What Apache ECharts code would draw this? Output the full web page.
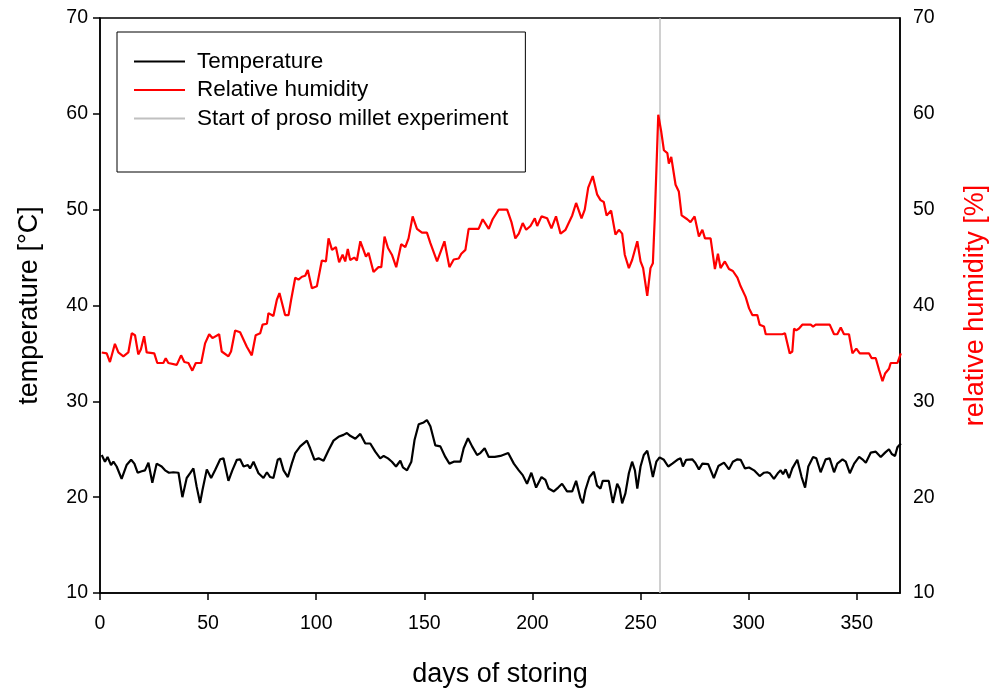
<!DOCTYPE html>
<html>
<head>
<meta charset="utf-8">
<script src="https://cdn.jsdelivr.net/npm/echarts@6/dist/echarts.min.js"></script>
<style>
  html, body { margin: 0; padding: 0; background: #fff; }
  #chart { width: 990px; height: 691px; }
</style>
</head>
<body>
<div id="chart"></div>
<script>
// days of storing / temperature [°C]
var tempDays = [0.8, 2.3, 3.5, 5.1, 6.2, 7.7, 10, 12.3, 14.4, 15.9, 17.4, 19.3, 20.8, 22.4, 24.2, 26.2, 28.5, 30.1, 31.9, 33.9,
  36.3, 38.1, 40.1, 41.7, 43.2, 44.7, 46.3, 47.4, 49.4, 51.4, 53.2, 55.6, 57.1, 59.4, 61.2, 63.3, 64.8, 66.4, 68.4, 69.4,
  71, 73.3, 75.6, 77.2, 78.7, 80.2, 82.2, 83.3, 84.9, 86.9, 88.7, 90.3, 92.6, 95.7, 97.2, 99.2, 101.1, 103.4, 105.7, 108,
  110.3, 112.6, 114.2, 115.7, 118.1, 120.4, 122.7, 125, 127.3, 129.6, 131.2, 133.2, 135, 136.9, 138.9, 140.1, 142, 144, 145.5, 147.4,
  149.7, 151.2, 152.8, 155.1, 157.4, 159.7, 161.6, 163.6, 166.7, 168.2, 170.2, 172.1, 174.4, 175.9, 177.9, 179.8, 182.6, 185.2, 188.8, 191.4,
  193.7, 195.5, 197.5, 199.5, 201.7, 204.2, 206, 207.5, 209.9, 211.9, 213.7, 216, 218.4, 220.2, 222.2, 223.3, 224.5, 226.4, 228.4, 229.9,
  231.5, 232.5, 235.3, 237.2, 239.2, 240.3, 241.5, 243, 244.6, 246.1, 247.4, 248.5, 250, 251.5, 253.1, 254.6, 255.7, 257.3, 258.8, 260.8,
  262.8, 264.7, 267, 268.5, 269.6, 271.1, 273.9, 275.3, 277, 278.6, 281.3, 283.9, 286, 288.6, 290.9, 292.7, 294.8, 296.3, 298.3, 300.2,
  302.5, 305.1, 307.1, 308.6, 309.7, 311.7, 313.7, 314.8, 315.9, 317.1, 318.7, 320.2, 322.5, 324.5, 326.1, 327.6, 329.8, 331.3, 333.3, 335.6,
  337.5, 339.5, 341, 343.4, 344.9, 346.8, 348.8, 351.1, 352.6, 354.2, 356.5, 358.8, 361.1, 363.1, 364.9, 366.2, 367.7, 368.8, 370.4];
var tempVals = [24.4, 23.7, 24.2, 23.35, 23.7, 23.2, 21.9, 23.35, 23.9, 23.5, 22.55, 22.7, 22.8, 23.6, 21.5, 23.5, 23.2, 22.8, 22.55, 22.6,
  22.55, 20.0, 22.0, 22.5, 23.0, 21.1, 19.4, 20.75, 22.9, 22.0, 22.8, 23.95, 24.05, 21.7, 22.8, 23.9, 23.95, 23.2, 23.35, 23.0,
  23.7, 22.5, 22.0, 22.6, 22.1, 22.0, 23.9, 24.05, 22.8, 22.1, 23.5, 24.6, 25.3, 25.9, 25.1, 23.9, 24.05, 23.8, 24.9, 25.9,
  26.3, 26.5, 26.7, 26.4, 26.1, 26.6, 25.6, 25.6, 24.75, 24.05, 24.3, 24.05, 23.7, 23.2, 23.8, 23.1, 22.8, 23.7, 26.0, 27.6,
  27.8, 28.05, 27.4, 25.4, 25.3, 24.2, 23.5, 23.7, 23.7, 25.1, 26.15, 25.3, 24.4, 24.6, 25.1, 24.2, 24.2, 24.3, 24.6, 23.5,
  22.8, 22.3, 21.4, 22.55, 21.0, 22.1, 21.8, 20.9, 20.6, 21.0, 21.4, 20.6, 20.6, 21.7, 19.9, 19.35, 20.75, 22.1, 22.65, 21.2,
  20.9, 21.7, 21.7, 19.4, 21.4, 20.9, 19.35, 20.4, 22.5, 23.7, 22.8, 20.9, 23.2, 24.4, 24.85, 23.35, 22.1, 23.7, 24.15, 23.9,
  23.2, 23.5, 23.9, 24.05, 23.2, 23.9, 23.95, 23.6, 22.9, 23.5, 23.45, 22.0, 23.25, 23.6, 22.9, 23.7, 23.95, 23.9, 23.0, 23.1,
  22.8, 22.2, 22.55, 22.6, 22.5, 21.9, 22.55, 22.8, 22.4, 22.9, 22.0, 23.0, 23.9, 22.1, 21.0, 23.2, 24.2, 24.05, 22.6, 23.95,
  24.05, 22.6, 23.5, 23.95, 23.7, 22.5, 23.5, 24.2, 23.95, 23.6, 24.65, 24.75, 24.2, 24.65, 25.0, 24.5, 24.3, 25.2, 25.6];

// days of storing / relative humidity [%]
var rhDays = [0.8, 3.1, 4.6, 6.9, 8.5, 10.8, 13.1, 14.7, 16.2, 17.7, 18.9, 20.4, 21.6, 25.1, 26.5, 29.3, 30.4, 31.6, 35.5, 37.5,
  39, 40.9, 42.7, 44.3, 46.8, 48.6, 50.5, 52, 55.1, 56.3, 59.4, 60.6, 62.5, 64.8, 67.9, 70.2, 72, 74.1, 75.2, 77.2,
  77.9, 80.2, 81.8, 83, 85.6, 87.2, 88.4, 90.3, 91.8, 93.4, 94.9, 96.1, 98, 100.3, 102.6, 104.5, 105.7, 107.3, 109.1, 110.6,
  112.2, 113.4, 114.6, 115.7, 117.6, 118.8, 120.4, 123, 124.2, 126.5, 128.8, 130.1, 131.6, 133.2, 135, 137, 139.3, 141.2, 142.7, 144.6,
  146.6, 148.9, 151.2, 152.8, 153.5, 155.9, 157.7, 159.3, 161.6, 163.6, 165.9, 167.1, 169, 170.5, 175.1, 177, 179.8, 181.6, 184.4, 188.3,
  190.3, 192.1, 193.7, 195.5, 197.1, 199.1, 201.1, 202.2, 204.2, 206.8, 208.8, 210.9, 213, 215.3, 218.4, 220.2, 222.7, 224.2, 225.8, 227.9,
  229.9, 231.5, 233, 234.3, 236.4, 238.4, 240, 241.5, 242.7, 244.6, 246.1, 248.5, 250, 251.2, 253.1, 254.6, 255.7, 256.6, 258.2, 259.6,
  260.8, 262.4, 263.1, 264.2, 266.2, 267.7, 269, 271.6, 273.1, 275, 277, 278.6, 279.8, 282.4, 284.4, 285.8, 287, 289, 290.9, 292.7,
  294.8, 296.3, 298.6, 300.2, 301.7, 304, 305.1, 307.1, 307.9, 315.6, 316.8, 319, 320.2, 321, 322, 323.3, 324.8, 328.7, 329.8, 331,
  337.5, 339.5, 341, 342.6, 344.1, 346.4, 348, 349.8, 351.4, 355.7, 356.9, 358.8, 360.3, 361.9, 363.1, 364.9, 365.7, 368.8, 370.4];
var rhVals = [35.1, 35.0, 34.1, 36.0, 35.1, 34.7, 35.1, 37.1, 36.9, 34.9, 35.4, 36.8, 35.1, 35.0, 34.0, 34.0, 34.5, 34.0, 33.8, 34.8,
  34.1, 34.0, 33.2, 34.0, 34.0, 36.05, 37.0, 36.6, 37.0, 35.2, 34.7, 35.2, 37.4, 37.2, 35.7, 34.8, 36.9, 37.1, 38.0, 38.1,
  39.2, 38.9, 40.6, 41.3, 39.0, 39.0, 40.6, 42.9, 42.7, 43.0, 43.1, 43.7, 41.8, 42.0, 44.7, 44.6, 47.0, 45.8, 46.1, 44.5,
  45.3, 44.6, 45.9, 44.75, 45.0, 44.7, 46.7, 45.1, 45.5, 43.5, 44.0, 44.0, 47.2, 46.0, 45.3, 44.0, 46.4, 46.1, 47.0, 49.3,
  48.0, 47.6, 47.6, 46.5, 46.3, 44.6, 45.7, 46.7, 44.0, 44.8, 44.9, 45.4, 45.8, 48.0, 48.0, 49.0, 48.0, 49.0, 50.0, 50.0,
  48.7, 47.0, 47.5, 48.6, 47.9, 48.3, 49.1, 48.3, 49.3, 49.1, 48.05, 49.3, 47.5, 47.9, 49.4, 50.7, 49.1, 50.0, 52.3, 53.5,
  51.6, 51.0, 50.8, 49.4, 49.9, 47.4, 47.9, 47.5, 45.3, 43.9, 44.75, 46.7, 44.6, 43.9, 41.0, 43.9, 44.4, 49.3, 59.9, 58.1,
  56.2, 55.9, 54.8, 55.5, 52.6, 51.9, 49.4, 49.0, 48.7, 49.3, 47.2, 47.9, 47.0, 47.0, 43.8, 45.4, 43.9, 44.6, 43.8, 43.6,
  42.9, 42.0, 40.9, 39.7, 39.0, 39.0, 38.0, 37.8, 37.0, 37.0, 37.1, 35.0, 35.2, 37.6, 37.4, 37.6, 38.0, 38.0, 37.8, 38.0,
  38.0, 37.0, 37.0, 37.7, 37.0, 37.0, 35.0, 35.5, 35.0, 35.0, 34.5, 34.5, 33.3, 32.1, 32.9, 33.4, 34.0, 34.0, 35.0];

// start of proso millet experiment (day) and axis limits
var startDay = 259;
var yTicks = [10, 70];
var xTicks = [0, 370];

var font = "Liberation Sans, Arial, sans-serif";

function zip(xs, ys) {
  return xs.map(function (x, i) { return [x, ys[i]]; });
}

var chart = echarts.init(document.getElementById("chart"));

var options = {
  animation: false,
  textStyle: { fontFamily: font },
  grid: {
    left: 100,
    right: 90,
    top: 18,
    bottom: 98,
    show: true,
    borderColor: "#000",
    borderWidth: 1.5,
    containLabel: false,
    outerBoundsMode: "none",
  },
  legend: {
    orient: "vertical",
    left: 117,
    top: 32,
    padding: [18, 17, 42, 17],
    itemGap: 5.5,
    itemWidth: 51,
    itemHeight: 2,
    itemStyle: { borderWidth: 0 },
    backgroundColor: "#fff",
    borderColor: "#000",
    borderWidth: 1,
    borderRadius: 0,
    textStyle: { fontSize: 22.5, lineHeight: 23, color: "#000", fontFamily: font, padding: [0, 0, 0, 7] },
    data: [
      { name: "Temperature", icon: "rect" },
      { name: "Relative humidity", icon: "rect" },
      { name: "Start of proso millet experiment", icon: "rect" },
    ],
  },
  xAxis: {
    type: "value",
    min: xTicks[0],
    max: xTicks[1],
    interval: 50,
    name: "days of storing",
    nameLocation: "middle",
    nameGap: 68,
    nameTextStyle: { fontSize: 27, color: "#000" },
    axisLine: { lineStyle: { color: "#000", width: 1.5 } },
    axisTick: { show: true, length: 7, lineStyle: { color: "#000", width: 1.5 } },
    axisLabel: {
      fontSize: 19.5,
      color: "#000",
      margin: 21,
      showMaxLabel: false,
    },
    splitLine: { show: false },
  },
  yAxis: [
    {
      type: "value",
      min: yTicks[0],
      max: yTicks[1],
      interval: 10,
      name: "temperature [°C]",
      nameLocation: "middle",
      nameGap: 57,
      nameTextStyle: { fontSize: 27, color: "#000" },
      axisLine: { show: true, lineStyle: { color: "#000", width: 1.5 } },
      axisTick: { show: true, length: 7, lineStyle: { color: "#000", width: 1.5 } },
      axisLabel: { fontSize: 19.5, color: "#000", margin: 12 },
      splitLine: { show: false },
    },
    {
      type: "value",
      min: yTicks[0],
      max: yTicks[1],
      interval: 10,
      position: "right",
      name: "relative humidity [%]",
      nameLocation: "middle",
      nameGap: 62,
      nameRotate: 90,
      nameTextStyle: { fontSize: 27, color: "#ff0000" },
      axisLine: { show: true, lineStyle: { color: "#000", width: 1.5 } },
      axisTick: { show: false },
      axisLabel: { fontSize: 19.5, color: "#000", margin: 13 },
      splitLine: { show: false },
    },
  ],
  series: [
    {
      name: "Start of proso millet experiment",
      type: "line",
      yAxisIndex: 0,
      symbol: "none",
      color: "#c0c0c0",
      lineStyle: { color: "#c0c0c0", width: 1.5 },
      data: [[startDay, yTicks[0]], [startDay, yTicks[1]]],
      z: 1,
    },
    {
      name: "Temperature",
      type: "line",
      yAxisIndex: 0,
      symbol: "none",
      color: "#000",
      lineStyle: { color: "#000", width: 2.2 },
      data: zip(tempDays, tempVals),
      z: 3,
    },
    {
      name: "Relative humidity",
      type: "line",
      yAxisIndex: 1,
      symbol: "none",
      color: "#ff0000",
      lineStyle: { color: "#ff0000", width: 2.2 },
      data: zip(rhDays, rhVals),
      z: 2,
    },
  ],
};

chart.setOption(options, true);
</script>
</body>
</html>
